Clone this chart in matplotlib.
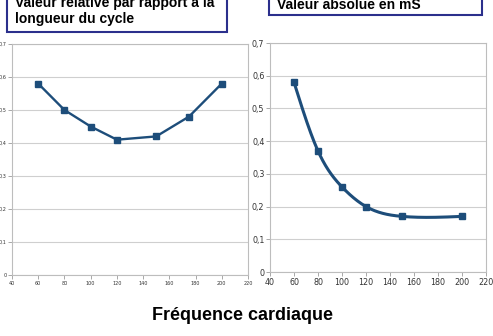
import numpy as np
import matplotlib
matplotlib.use("Agg")
import matplotlib.pyplot as plt
from matplotlib.patches import Rectangle

# Data
hr_rel = [60, 80, 100, 120, 150, 175, 200]
val_rel = [0.58, 0.50, 0.45, 0.41, 0.42, 0.48, 0.58]
hr_abs = [60, 80, 100, 120, 150, 200]
val_abs = [0.58, 0.37, 0.26, 0.20, 0.17, 0.17]
xticks = [40, 60, 80, 100, 120, 140, 160, 180, 200, 220]
yticks = [0, 0.1, 0.2, 0.3, 0.4, 0.5, 0.6, 0.7]
ylabels = ["0", "0,1", "0,2", "0,3", "0,4", "0,5", "0,6", "0,7"]
title_left = "Valeur relative par rapport à la\nlongueur du cycle"
title_right = "Valeur absolue en mS"
xlabel = "Fréquence cardiaque"

LINE = "#1d4d7a"
BOX = "#2b2f8c"

def natural_spline(x, y, n=300):
    x = np.asarray(x, float); y = np.asarray(y, float)
    k = len(x)
    h = np.diff(x)
    A = np.zeros((k, k)); b = np.zeros(k)
    A[0, 0] = A[-1, -1] = 1
    for i in range(1, k - 1):
        A[i, i - 1] = h[i - 1]
        A[i, i] = 2 * (h[i - 1] + h[i])
        A[i, i + 1] = h[i]
        b[i] = 3 * ((y[i + 1] - y[i]) / h[i] - (y[i] - y[i - 1]) / h[i - 1])
    c = np.linalg.solve(A, b)
    xs = np.linspace(x[0], x[-1], n)
    ys = np.empty_like(xs)
    for j, xv in enumerate(xs):
        i = min(np.searchsorted(x, xv, side="right") - 1, k - 2)
        dx = xv - x[i]
        bi = (y[i + 1] - y[i]) / h[i] - h[i] * (2 * c[i] + c[i + 1]) / 3
        di = (c[i + 1] - c[i]) / (3 * h[i])
        ys[j] = y[i] + bi * dx + c[i] * dx ** 2 + di * dx ** 3
    return xs, ys

fig = plt.figure(figsize=(4.93, 3.36), dpi=100)
fig.patch.set_facecolor("white")

def style(ax, fs, pad):
    ax.set_xlim(40, 220)
    ax.set_ylim(0, 0.7)
    ax.set_xticks(xticks)
    ax.set_yticks(yticks)
    kw = dict(fontsize=fs, family="DejaVu Sans", stretch="condensed")
    ax.set_xticklabels([str(t) for t in xticks], **kw)
    ax.set_yticklabels(ylabels, **kw)
    ax.grid(axis="y", color="#cfcfcf", linewidth=0.8)
    ax.set_axisbelow(True)
    for s in ax.spines.values():
        s.set_color("#bdbdbd")
        s.set_linewidth(0.8)
    ax.tick_params(axis="both", length=3, width=0.6, color="#9a9a9a", pad=pad, labelcolor="#333333")

axL = fig.add_axes([12 / 493, 1 - 275 / 336, 236 / 493, 231 / 336])
style(axL, 4.0, 1.0)
axL.plot(hr_rel, val_rel, color=LINE, linewidth=1.7, marker="s", markersize=4, markeredgecolor=LINE)

axR = fig.add_axes([270 / 493, 1 - 272 / 336, 216 / 493, 229 / 336])
style(axR, 6.4, 1.0)
xs, ys = natural_spline(hr_abs, val_abs)
axR.plot(xs, ys, color=LINE, linewidth=2.2)
axR.plot(hr_abs, val_abs, linestyle="none", color=LINE, marker="s", markersize=5, markeredgecolor=LINE)

fig.patches.append(Rectangle((7 / 493, 1 - 32 / 336), 220 / 493, 40 / 336, transform=fig.transFigure,
                             facecolor="white", edgecolor=BOX, linewidth=1.5))
fig.text(15 / 493, 1 - 11 / 336, title_left, fontsize=10, fontweight="bold", family="Liberation Sans",
         va="center", ha="left", linespacing=1.1)
fig.patches.append(Rectangle((269 / 493, 1 - 15 / 336), 213 / 493, 25 / 336, transform=fig.transFigure,
                             facecolor="white", edgecolor=BOX, linewidth=1.5))
fig.text(277 / 493, 1 - 5 / 336, title_right, fontsize=10, fontweight="bold", family="Liberation Sans",
         va="center", ha="left")

fig.text(242 / 493, 1 - 316 / 336, xlabel, fontsize=13, fontweight="bold", family="Liberation Sans",
         ha="center", va="center")

fig.savefig("out.png", dpi=100)
